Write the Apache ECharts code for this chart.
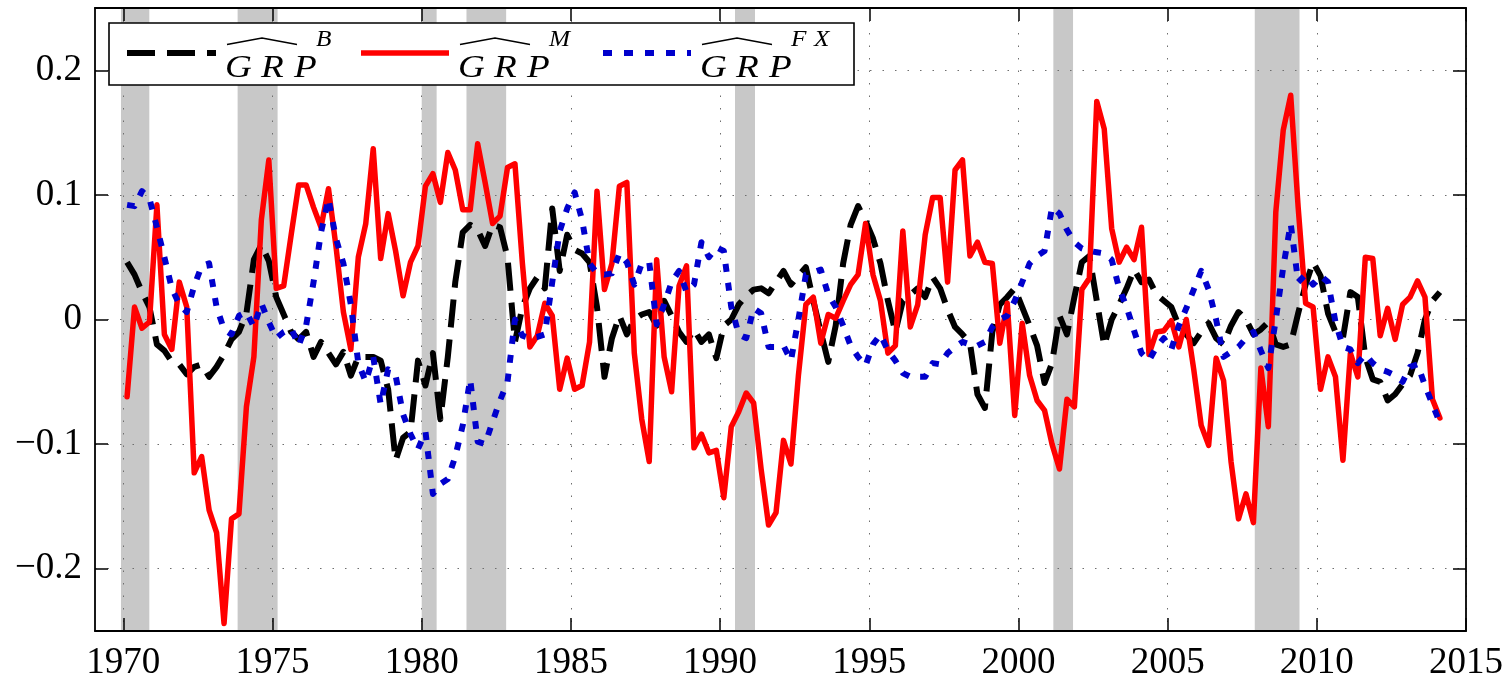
<!DOCTYPE html>
<html>
<head>
<meta charset="utf-8">
<title>GRP estimates</title>
<script src="https://cdn.jsdelivr.net/npm/echarts@6/dist/echarts.min.js"></script>
<style>
  html, body { margin: 0; padding: 0; background: #ffffff; }
  #chart { width: 1510px; height: 685px; }
</style>
</head>
<body>
<div id="chart"></div>
<script>
// Quarterly observations, 1970Q1 .. 2014Q1 (plotted at mid-quarter)
const firstQuarter = 1970.125;
const quarterStep = 0.25;

const grpB = [
  0.046, 0.036, 0.022, 0.010, -0.020, -0.025, -0.034, -0.036, -0.044, -0.038,
  -0.036, -0.046, -0.038, -0.028, -0.016, -0.010, 0.005, 0.048, 0.060, 0.047,
  0.018, 0.004, -0.010, -0.016, -0.010, -0.030, -0.018, -0.027, -0.036, -0.026,
  -0.045, -0.030, -0.030, -0.030, -0.033, -0.056, -0.113, -0.095, -0.090, -0.033,
  -0.053, -0.027, -0.080, -0.030, 0.030, 0.070, 0.076, 0.072, 0.059, 0.076,
  0.074, 0.050, -0.018, 0.010, 0.025, 0.034, 0.025, 0.089, 0.039, 0.068,
  0.056, 0.053, 0.046, 0.010, -0.046, -0.015, 0.003, -0.012, 0.000, 0.004,
  0.006, -0.005, 0.015, 0.003, -0.010, -0.018, -0.008, -0.018, -0.012, -0.031,
  -0.005, 0.000, 0.012, 0.019, 0.024, 0.025, 0.021, 0.030, 0.039, 0.028,
  0.035, 0.042, 0.015, -0.010, -0.034, -0.005, 0.045, 0.076, 0.091, 0.079,
  0.065, 0.045, 0.015, -0.010, 0.015, 0.020, 0.025, 0.018, 0.034, 0.025,
  0.008, -0.006, -0.012, -0.019, -0.060, -0.071, -0.010, 0.012, 0.018, 0.025,
  0.010, -0.005, -0.021, -0.051, -0.035, 0.003, -0.012, 0.018, 0.046, 0.051,
  0.015, -0.021, 0.000, 0.012, 0.025, 0.040, 0.030, 0.032, 0.020, 0.015,
  0.010, -0.005, -0.012, -0.019, -0.010, -0.003, -0.015, -0.020, -0.005, 0.006,
  0.000, -0.012, -0.008, -0.002, -0.020, -0.022, -0.020, 0.005, 0.028, 0.046,
  0.035, 0.005, -0.010, -0.015, 0.022, 0.018, -0.030, -0.048, -0.050, -0.065,
  -0.060, -0.052, -0.045, -0.027, 0.000, 0.015, 0.022
];

const grpM = [
  -0.062, 0.010, -0.007, -0.002, 0.092, -0.012, -0.024, 0.030, 0.010, -0.123,
  -0.110, -0.153, -0.171, -0.244, -0.160, -0.156, -0.070, -0.030, 0.080, 0.128,
  0.025, 0.027, 0.068, 0.108, 0.108, 0.090, 0.074, 0.105, 0.059, 0.006,
  -0.024, 0.050, 0.077, 0.137, 0.049, 0.085, 0.055, 0.019, 0.046, 0.059,
  0.107, 0.117, 0.094, 0.134, 0.120, 0.088, 0.088, 0.141, 0.110, 0.077,
  0.083, 0.122, 0.125, 0.045, -0.022, -0.013, 0.013, 0.003, -0.056, -0.031,
  -0.056, -0.053, -0.018, 0.103, 0.024, 0.045, 0.107, 0.110, -0.027, -0.080,
  -0.114, 0.048, -0.030, -0.058, 0.027, 0.043, -0.103, -0.092, -0.107, -0.105,
  -0.143, -0.086, -0.074, -0.059, -0.067, -0.120, -0.165, -0.155, -0.097, -0.116,
  -0.045, 0.012, 0.018, -0.019, 0.004, 0.001, 0.015, 0.028, 0.036, 0.077,
  0.036, 0.015, -0.027, -0.021, 0.071, -0.006, 0.012, 0.068, 0.098, 0.098,
  0.030, 0.120, 0.128, 0.051, 0.062, 0.046, 0.045, -0.019, 0.013, -0.077,
  -0.003, -0.045, -0.065, -0.073, -0.100, -0.120, -0.064, -0.070, 0.024, 0.033,
  0.175, 0.153, 0.073, 0.046, 0.058, 0.048, 0.074, -0.028, -0.010, -0.009,
  -0.001, -0.022, 0.000, -0.040, -0.085, -0.101, -0.031, -0.049, -0.114, -0.160,
  -0.140, -0.163, -0.039, -0.086, 0.086, 0.152, 0.180, 0.090, 0.013, 0.010,
  -0.056, -0.030, -0.046, -0.113, -0.027, -0.046, 0.050, 0.049, -0.013, 0.009,
  -0.016, 0.012, 0.018, 0.031, 0.018, -0.064, -0.079
];

const grpFX = [
  0.092, 0.091, 0.103, 0.097, 0.074, 0.050, 0.025, 0.012, 0.006, 0.027,
  0.043, 0.045, 0.010, -0.008, -0.012, 0.003, 0.006, -0.006, 0.013, -0.002,
  -0.015, -0.010, -0.007, -0.021, -0.005, 0.030, 0.070, 0.097, 0.065, 0.045,
  0.012, -0.035, -0.050, -0.030, -0.068, -0.040, -0.045, -0.076, -0.092, -0.104,
  -0.090, -0.140, -0.132, -0.128, -0.110, -0.085, -0.048, -0.098, -0.100, -0.082,
  -0.065, -0.050, 0.000, -0.013, -0.015, -0.014, -0.012, 0.030, 0.071, 0.089,
  0.102, 0.080, 0.045, 0.037, 0.036, 0.037, 0.053, 0.046, 0.028, 0.045,
  0.046, -0.004, 0.012, 0.030, 0.039, 0.022, 0.028, 0.062, 0.050, 0.058,
  0.055, 0.010, -0.012, -0.015, 0.009, 0.005, -0.022, -0.022, -0.021, -0.033,
  0.000, 0.036, 0.038, 0.040, 0.020, 0.010, -0.005, -0.021, -0.030, -0.037,
  -0.020, -0.012, -0.025, -0.033, -0.043, -0.046, -0.046, -0.046, -0.035, -0.036,
  -0.027, -0.022, -0.018, -0.020, -0.021, -0.018, -0.006, 0.000, 0.003, 0.015,
  0.030, 0.045, 0.051, 0.055, 0.090, 0.085, 0.072, 0.062, 0.057, 0.055,
  0.054, 0.053, 0.048, 0.025, 0.010, -0.009, -0.027, -0.033, -0.022, -0.015,
  -0.024, -0.005, 0.009, 0.024, 0.039, 0.024, 0.000, -0.030, -0.026, -0.022,
  -0.015, -0.010, -0.025, -0.039, 0.000, 0.042, 0.077, 0.030, 0.036, 0.028,
  0.035, 0.030, -0.002, -0.022, -0.024, -0.035, -0.028, -0.035, -0.040, -0.042,
  -0.045, -0.050, -0.038, -0.036, -0.053, -0.068, -0.083
];

// NBER recession periods (start, end) in decimal years
const recessions = [
  [1969.92, 1970.87], [1973.83, 1975.17], [1980.0, 1980.5], [1981.5, 1982.83],
  [1990.5, 1991.17], [2001.17, 2001.83], [2007.92, 2009.42]
];

const yearTicks = [1970, 1975, 1980, 1985, 1990, 1995, 2000, 2005, 2010, 2015];
const valueTicks = [-0.2, -0.1, 0, 0.1, 0.2];
const legendSuperscripts = [['B'], ['M'], ['F', 'X']];

const xRange = [1969.05, 2015];
const yRange = [-0.25, 0.25];

function toPairs(values) {
  return values.map((v, i) => [firstQuarter + i * quarterStep, v]);
}

function fmtValue(v) {
  if (Math.abs(v) < 1e-9) return '0';
  const s = Math.abs(v).toFixed(1);
  return v < 0 ? '\u2212' + s : s;
}

const axisFont = 'Liberation Serif';
const frameLine = { show: true, onZero: false, lineStyle: { color: '#000', width: 1.8 } };
const gridDots = { show: true, lineStyle: { color: '#6e6e6e', width: 1, type: [1.5, 11] } };

function xAxisDef(position, labelled) {
  return {
    type: 'value', position: position, min: xRange[0], max: xRange[1], z: 2,
    axisLine: frameLine,
    axisTick: { show: true, inside: true, length: 13, customValues: yearTicks,
                lineStyle: { color: '#000', width: 1.5 } },
    axisLabel: { show: labelled, customValues: yearTicks, margin: 14, color: '#000',
                 fontFamily: axisFont, fontSize: 37, formatter: v => String(Math.round(v)) },
    splitLine: labelled ? gridDots : { show: false }
  };
}

function yAxisDef(position, labelled) {
  return {
    type: 'value', position: position, min: yRange[0], max: yRange[1], z: 2,
    axisLine: frameLine,
    axisTick: { show: true, inside: true, length: 13, customValues: valueTicks,
                lineStyle: { color: '#000', width: 1.5 } },
    axisLabel: { show: labelled, customValues: valueTicks, margin: 13, color: '#000',
                 fontFamily: axisFont, fontSize: 37, formatter: fmtValue },
    splitLine: labelled ? gridDots : { show: false }
  };
}

// Legend box drawn as graphic elements (hatted symbols with superscripts)
const legendBox = { x: 109, y: 23, w: 745, h: 62 };
const legendItems = [
  { x1: 127, x2: 216, color: '#000000', width: 6, dash: [28, 12], textX: 225 },
  { x1: 361, x2: 449, color: '#ff0000', width: 5.5, dash: null, textX: 458 },
  { x1: 603, x2: 691, color: '#0000cc', width: 6, dash: [9, 12], textX: 700 }
];

function italicText(ch, x, y, size, stretch) {
  return {
    type: 'text', z: 21, silent: true,
    x: x, y: y, scaleX: stretch, scaleY: 1,
    style: { text: ch, x: 0, y: 0, fontSize: size, fontStyle: 'italic',
             fontFamily: 'Liberation Serif', fill: '#000', align: 'left', verticalAlign: 'middle' }
  };
}

const legendGraphics = [{
  type: 'rect', z: 20, silent: true,
  shape: { x: legendBox.x, y: legendBox.y, width: legendBox.w, height: legendBox.h },
  style: { fill: '#ffffff', stroke: '#000000', lineWidth: 1.6 }
}];
legendItems.forEach((it, k) => {
  legendGraphics.push({
    type: 'line', z: 21, silent: true,
    shape: { x1: it.x1, y1: 53, x2: it.x2, y2: 53 },
    style: { stroke: it.color, lineWidth: it.width, lineDash: it.dash, lineCap: 'butt' }
  });
  ['G', 'R', 'P'].forEach((ch, j) => {
    legendGraphics.push(italicText(ch, it.textX + [0, 36, 69][j], 68.5, 31, 1.2));
  });
  legendSuperscripts[k].forEach((ch, j) => {
    legendGraphics.push(italicText(ch, it.textX + 91 + j * 23, 39.5, 23, 1.1));
  });
  legendGraphics.push({
    type: 'polyline', z: 21, silent: true,
    shape: { points: [[it.textX + 2, 44.5], [it.textX + 37, 38], [it.textX + 72, 44.5]] },
    style: { stroke: '#000', lineWidth: 1.6, fill: null }
  });
});

const chart = echarts.init(document.getElementById('chart'), null, { renderer: 'canvas' });
chart.setOption({
  animation: false,
  backgroundColor: '#ffffff',
  grid: { left: 95, right: 44, top: 8, bottom: 54, containLabel: false },
  xAxis: [xAxisDef('bottom', true), xAxisDef('top', false)],
  yAxis: [yAxisDef('left', true), yAxisDef('right', false)],
  series: [
    {
      name: 'recessions', type: 'line', data: [], z: 1, silent: true,
      markArea: {
        silent: true, z: 1,
        itemStyle: { color: '#c8c8c8', borderWidth: 0 },
        data: recessions.map(r => [{ xAxis: r[0], yAxis: yRange[0] }, { xAxis: r[1], yAxis: yRange[1] }])
      }
    },
    {
      name: 'GRP B', type: 'line', data: toPairs(grpB), z: 3, showSymbol: false, silent: true,
      lineStyle: { color: '#000000', width: 6, type: [28, 12], cap: 'butt', join: 'round' }
    },
    {
      name: 'GRP M', type: 'line', data: toPairs(grpM), z: 3, showSymbol: false, silent: true,
      lineStyle: { color: '#ff0000', width: 5.5, type: 'solid', cap: 'round', join: 'round' }
    },
    {
      name: 'GRP FX', type: 'line', data: toPairs(grpFX), z: 3, showSymbol: false, silent: true,
      lineStyle: { color: '#0000cc', width: 6, type: [8, 11], cap: 'butt', join: 'round' }
    }
  ],
  graphic: legendGraphics
});
</script>
</body>
</html>
